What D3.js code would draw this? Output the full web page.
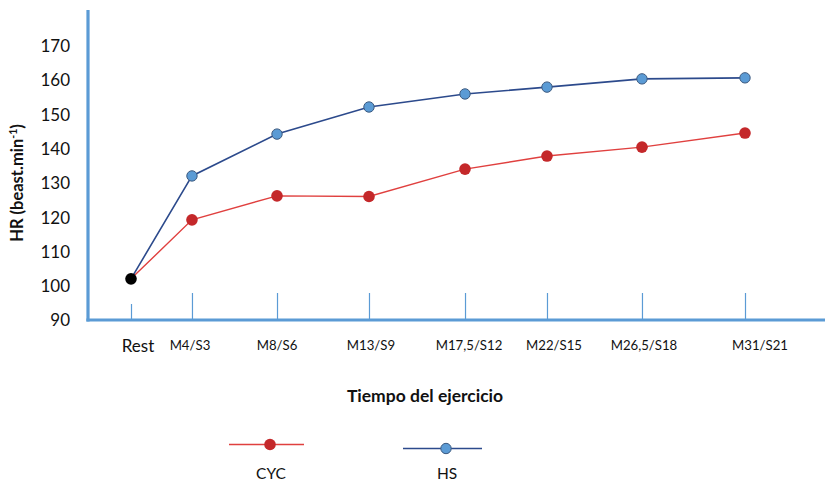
<!DOCTYPE html>
<html><head><meta charset="utf-8">
<script src="https://cdn.jsdelivr.net/npm/d3@7"></script>
<style>body{margin:0;background:#fff}svg{display:block}text{font-family:Lato,"Open Sans",sans-serif}</style>
</head><body><svg id="c" width="825" height="482"></svg>
<script>
const categories = ["Rest","M4/S3","M8/S6","M13/S9","M17,5/S12","M22/S15","M26,5/S18","M31/S21"];
const cycValues = [102, 119.2, 126.2, 126.0, 134.0, 137.8, 140.4, 144.5];
const hsValues  = [102, 132.0, 144.2, 152.1, 155.9, 157.9, 160.3, 160.6];
const yTicks = [90,100,110,120,130,140,150,160,170];
const seriesNames = ["CYC","HS"];

const svg = d3.select("#c");
const axisColor = "#5b9bd5";
// irregular category spacing as in the original figure (layout fractions)
const xFrac = [0, 0.0993, 0.2378, 0.3876, 0.5440, 0.6775, 0.8322, 1];
const x0 = 131, x1 = 745;
const x = d3.scaleLinear().domain(d3.range(categories.length)).range(xFrac.map(f => x0 + f*(x1-x0)));
const y = d3.scaleLinear().domain([90,170]).range([320,45.6]);

// y tick labels
const yAxis = d3.axisLeft(y).tickValues(yTicks).tickSize(0).tickPadding(18);
const gy = svg.append("g").attr("transform","translate(88,0)").call(yAxis);
gy.select(".domain").remove();
gy.selectAll("text").attr("font-size",17).attr("fill","#111").attr("dy","0.35em");

// x ticks (drawn upward from axis)
const xAxis = d3.axisBottom(x).tickValues(d3.range(categories.length)).tickSize(0).tickFormat("");
const gx = svg.append("g").attr("transform","translate(0,320)").call(xAxis);
gx.select(".domain").remove();
gx.selectAll(".tick line").attr("y2",(d,i)=> i===0 ? -16 : -27).attr("stroke",axisColor).attr("stroke-width",1.2);

// x labels
const labelDx = [7, -2, 0, 2, 4, 7, 2, 15];
svg.append("g").selectAll("text").data(categories).join("text")
  .attr("x",(d,i)=>x(i)+labelDx[i]).attr("y",(d,i)=> i===0 ? 352 : 350)
  .attr("text-anchor","middle").attr("font-size",(d,i)=> i===0 ? 17 : 13.2).attr("fill","#111")
  .text(d=>d);

// axes lines
svg.append("line").attr("x1",88).attr("x2",88).attr("y1",10).attr("y2",321.5).attr("stroke",axisColor).attr("stroke-width",3.2);
svg.append("line").attr("x1",86.4).attr("x2",825).attr("y1",320).attr("y2",320).attr("stroke",axisColor).attr("stroke-width",3.2);

// titles
svg.append("text").attr("x",425).attr("y",402).attr("text-anchor","middle").attr("font-size",17.5).attr("font-weight","bold").attr("fill","#111").text("Tiempo del ejercicio");
const yt = svg.append("text").attr("transform","translate(23,183) rotate(-90)").attr("text-anchor","middle").attr("font-size",16.5).attr("font-weight","bold").attr("fill","#111");
yt.append("tspan").text("HR (beast.min");
yt.append("tspan").attr("font-size",10.5).attr("dy",-6).text("-1");
yt.append("tspan").attr("dy",6).text(")");

const line = d3.line().x((d,i)=>x(i)).y(d=>y(d));
svg.append("path").datum(cycValues).attr("d",line).attr("fill","none").attr("stroke","#e0403f").attr("stroke-width",1.4);
svg.append("path").datum(hsValues).attr("d",line).attr("fill","none").attr("stroke","#2c4a8c").attr("stroke-width",1.6);

svg.append("g").selectAll("circle").data(cycValues.slice(1)).join("circle")
  .attr("cx",(d,i)=>x(i+1)).attr("cy",d=>y(d)).attr("r",5.8).attr("fill","#c4282a");
svg.append("g").selectAll("circle").data(hsValues.slice(1)).join("circle")
  .attr("cx",(d,i)=>x(i+1)).attr("cy",d=>y(d)).attr("r",5.2).attr("fill","#5b9bd5").attr("stroke","#3c5a80").attr("stroke-width",1);
svg.append("circle").attr("cx",x(0)).attr("cy",y(cycValues[0])).attr("r",5.8).attr("fill","#000");

// legend
const leg = [{n:seriesNames[0],x1:229,x2:304,ly:444.5,mx:270,stroke:"#e0403f",fill:"#c4282a",ms:"none",r:5.8},
             {n:seriesNames[1],x1:403,x2:482,ly:448.5,mx:446,stroke:"#2c4a8c",fill:"#5b9bd5",ms:"#3c5a80",r:5.2}];
const lg = svg.append("g").selectAll("g").data(leg).join("g");
lg.append("line").attr("x1",d=>d.x1).attr("x2",d=>d.x2).attr("y1",d=>d.ly).attr("y2",d=>d.ly).attr("stroke",d=>d.stroke).attr("stroke-width",1.4);
lg.append("circle").attr("cx",d=>d.mx).attr("cy",d=>d.ly).attr("r",d=>d.r).attr("fill",d=>d.fill).attr("stroke",d=>d.ms);
lg.append("text").attr("x",d=>d.mx+1).attr("y",479).attr("text-anchor","middle").attr("font-size",15.5).attr("fill","#111").text(d=>d.n);
</script></body></html>
